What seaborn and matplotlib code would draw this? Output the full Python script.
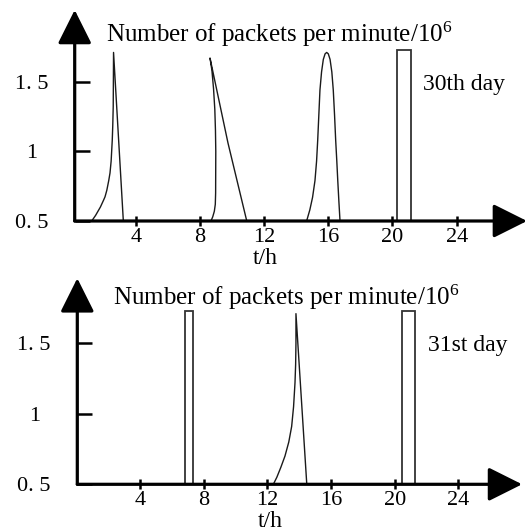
import matplotlib
matplotlib.use("Agg")
import matplotlib.pyplot as plt
import seaborn as sns
import pandas as pd

# ---------------- data ----------------
# 30th day
day30_a_t = [1.26, 1.50, 1.80, 2.00, 2.09, 2.20, 2.32, 2.40, 2.47, 2.54, 2.57, 2.60, 2.61, 2.62, 3.23]
day30_a_y = [0.50, 0.54, 0.60, 0.65, 0.674, 0.72, 0.79, 0.845, 0.93, 1.08, 1.18, 1.32, 1.50, 1.71, 0.50]
day30_b_t = [8.69, 8.80, 8.90, 8.96, 8.98, 8.99, 8.97, 8.93, 8.85, 8.75, 8.63, 9.75, 10.92]
day30_b_y = [0.50, 0.53, 0.57, 0.62, 0.70, 1.00, 1.15, 1.30, 1.45, 1.58, 1.67, 1.06, 0.50]
day30_c_t = [14.65, 14.85, 15.02, 15.17, 15.27, 15.34, 15.41, 15.48, 15.58, 15.69, 15.80,
             15.90, 16.00, 16.11, 16.22, 16.31, 16.39, 16.46, 16.53, 16.59, 16.66, 16.73]
day30_c_y = [0.50, 0.58, 0.67, 0.79, 0.93, 1.08, 1.26, 1.44, 1.57, 1.66, 1.70,
             1.71, 1.70, 1.66, 1.57, 1.44, 1.26, 1.08, 0.93, 0.79, 0.64, 0.50]
day30_bar_start = [20.30]
day30_bar_end = [21.13]
day30_bar_top = [1.73]

# 31st day
day31_a_t = [12.38, 12.60, 12.85, 13.11, 13.35, 13.53, 13.65, 13.74, 13.78, 13.80, 13.80, 14.48]
day31_a_y = [0.50, 0.55, 0.62, 0.70, 0.80, 0.91, 1.05, 1.22, 1.35, 1.50, 1.71, 0.50]
day31_bar_start = [6.84, 20.44]
day31_bar_end = [7.32, 21.27]
day31_bar_top = [1.73, 1.73]

x_ticks = [4, 8, 12, 16, 20, 24]
y_ticks = [0.5, 1.0, 1.5]
y_tick_labels = ["0. 5", "1", "1. 5"]
title_text = "Number of packets per minute/10$\\mathregular{^6}$"
day_labels = ["30th day", "31st day"]
x_label = "t/h"

# ---------------- style ----------------
sns.set_theme(style="white")
plt.rcParams["font.family"] = ["Liberation Serif", "DejaVu Serif"]
plt.rcParams["mathtext.fontset"] = "custom"
plt.rcParams["mathtext.rm"] = "Liberation Serif"

fig = plt.figure(figsize=(5.28, 5.32), dpi=100)
W, H = 528.0, 532.0

def make_df(curves):
    rows = []
    for i, (ts, ys) in enumerate(curves):
        for k, (t, y) in enumerate(zip(ts, ys)):
            rows.append({"t": t, "y": y, "curve": i, "order": k})
    return pd.DataFrame(rows)

panels = [
    dict(rect=(74.7, 527.0, 8.0, 221.0), xlim=(0.2, 28.38), ylim=(0.5, 2.029),
         ytip=2.015, xtip=28.38,
         curves=[(day30_a_t, day30_a_y), (day30_b_t, day30_b_y), (day30_c_t, day30_c_y)],
         bars=(day30_bar_start, day30_bar_end, day30_bar_top),
         title_pos=(2.15, 1.785), day_pos=(21.9, 1.44), day=day_labels[0],
         xlabel_pos=(12.05, 0.234)),
    dict(rect=(77.3, 524.0, 276.0, 484.3), xlim=(0.07, 28.12), ylim=(0.5, 1.977),
         ytip=1.961, xtip=28.0,
         curves=[(day31_a_t, day31_a_y)],
         bars=(day31_bar_start, day31_bar_end, day31_bar_top),
         title_pos=(2.32, 1.77), day_pos=(22.09, 1.445), day=day_labels[1],
         xlabel_pos=(12.2, 0.233)),
]

ink = "#1a1a1a"
for p in panels:
    x0, x1, ytop, ybot = p["rect"]
    ax = fig.add_axes([x0 / W, (H - ybot) / H, (x1 - x0) / W, (ybot - ytop) / H])
    ax.set_xlim(*p["xlim"])
    ax.set_ylim(*p["ylim"])
    for s in ax.spines.values():
        s.set_visible(False)
    ax.patch.set_alpha(0)

    df = make_df(p["curves"])
    sns.lineplot(data=df, x="t", y="y", units="curve", estimator=None, sort=False,
                 color=ink, lw=1.0, ax=ax, legend=False)

    bs, be, bt = p["bars"]
    ax.bar(bs, [t - 0.5 for t in bt], width=[e - s for s, e in zip(bs, be)], bottom=0.5,
           align="edge", facecolor="white", edgecolor="#333333", lw=1.3, zorder=3)

    # axes with arrows
    xl = p["xlim"][0]
    ap = dict(arrowstyle="-|>,head_length=2.1,head_width=1.05", mutation_scale=10,
              lw=2.3, color="black", shrinkA=0, shrinkB=0)
    ax.annotate("", xy=(p["xtip"], 0.5), xytext=(xl, 0.5), arrowprops=ap,
                annotation_clip=False, zorder=5)
    ax.annotate("", xy=(xl, p["ytip"]), xytext=(xl, 0.5), arrowprops=ap,
                annotation_clip=False, zorder=5)

    ax.set_xticks(x_ticks)
    ax.set_xticklabels([str(v) for v in x_ticks])
    ax.set_yticks(y_ticks)
    ax.set_yticklabels(y_tick_labels)
    ax.tick_params(axis="x", bottom=True, direction="inout", length=7.5, width=1.8,
                   color="black", labelsize=16, pad=1, labelcolor="black")
    ax.tick_params(axis="y", left=True, direction="in", length=10.8, width=1.8,
                   color="black", labelsize=16, pad=31, labelcolor="black")
    for lab in ax.get_yticklabels():
        lab.set_horizontalalignment("center")
    ax.set_xlabel("")
    ax.set_ylabel("")

    ax.text(p["title_pos"][0], p["title_pos"][1], title_text, fontsize=18,
            ha="left", va="baseline", color="black", clip_on=False)
    ax.text(p["day_pos"][0], p["day_pos"][1], p["day"], fontsize=17,
            ha="left", va="baseline", color="black", clip_on=False)
    ax.text(p["xlabel_pos"][0], p["xlabel_pos"][1], x_label, fontsize=17,
            ha="center", va="center", color="black", clip_on=False)

fig.savefig("out.png", dpi=100)
